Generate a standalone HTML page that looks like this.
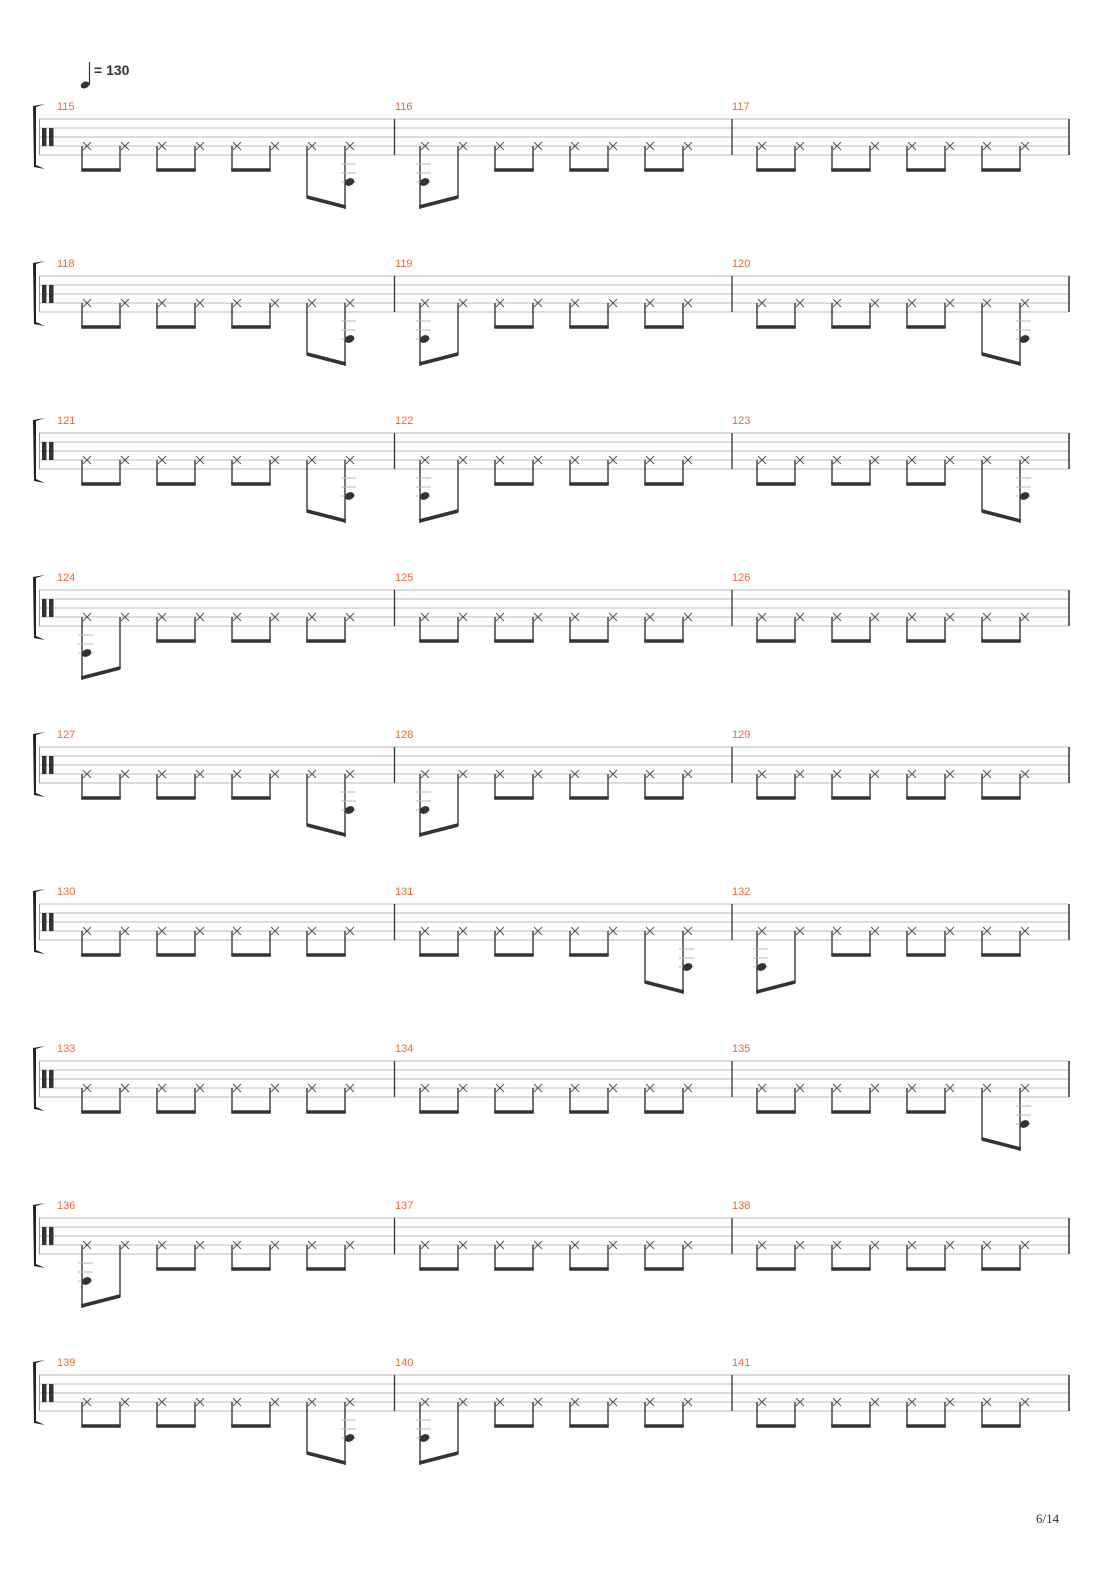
<!DOCTYPE html>
<html><head><meta charset="utf-8">
<style>
html,body{margin:0;padding:0;background:#fff;}
svg{display:block;}
.mn{font-family:"Liberation Sans",sans-serif;font-size:11px;fill:#f0683a;}
</style></head>
<body>
<svg id="s" width="1110" height="1570" viewBox="0 0 1110 1570" xmlns="http://www.w3.org/2000/svg">
<!-- tempo -->
<line x1="89.5" y1="62" x2="89.5" y2="85" stroke="#333" stroke-width="1.2"/>
<ellipse cx="85" cy="85" rx="4.5" ry="3.2" transform="rotate(-25 85 85)" fill="#333"/>
<text x="94" y="75" font-family="Liberation Sans,sans-serif" font-size="14" font-weight="bold" fill="#333">= 130</text>
<g id="g"></g>
<text class="mn" x="57" y="110">115</text><text class="mn" x="395" y="110">116</text><text class="mn" x="732" y="110">117</text>
<text class="mn" x="57" y="267">118</text><text class="mn" x="395" y="267">119</text><text class="mn" x="732" y="267">120</text>
<text class="mn" x="57" y="424">121</text><text class="mn" x="395" y="424">122</text><text class="mn" x="732" y="424">123</text>
<text class="mn" x="57" y="581">124</text><text class="mn" x="395" y="581">125</text><text class="mn" x="732" y="581">126</text>
<text class="mn" x="57" y="738">127</text><text class="mn" x="395" y="738">128</text><text class="mn" x="732" y="738">129</text>
<text class="mn" x="57" y="895">130</text><text class="mn" x="395" y="895">131</text><text class="mn" x="732" y="895">132</text>
<text class="mn" x="57" y="1052">133</text><text class="mn" x="395" y="1052">134</text><text class="mn" x="732" y="1052">135</text>
<text class="mn" x="57" y="1209">136</text><text class="mn" x="395" y="1209">137</text><text class="mn" x="732" y="1209">138</text>
<text class="mn" x="57" y="1366">139</text><text class="mn" x="395" y="1366">140</text><text class="mn" x="732" y="1366">141</text>
<text x="1036" y="1523" font-family="Liberation Serif,serif" font-size="13" fill="#333">6/14</text>
</svg>
<script>
(function(){
var g=document.getElementById('g'),h='';
var pat=[['E','S','N'],['E','S','E'],['E','S','E'],['S','N','N'],['E','S','N'],['N','E','S'],['N','N','E'],['S','N','N'],['E','S','N']];
var ms=[82,420,757];
function L(x1,y1,x2,y2,c,w){h+='<line x1="'+x1+'" y1="'+y1+'" x2="'+x2+'" y2="'+y2+'" stroke="'+c+'" stroke-width="'+w+'"/>';}
function X(x,y){L(x-4,y-4,x+4,y+4,'#555',1);L(x-4,y+4,x+4,y-4,'#555',1);}
function kick(sx,oy){var hx=sx+4.5;
 [164,173,182].forEach(function(y){L(sx-4,y+oy,sx+11,y+oy,'#bbb',1);});
 h+='<ellipse cx="'+hx+'" cy="'+(182+oy)+'" rx="5" ry="3.6" transform="rotate(-25 '+hx+' '+(182+oy)+')" fill="#333"/>';}
for(var r=0;r<9;r++){
 var oy=r*157;
 [119,128,137,146,155].forEach(function(y){L(39,y+oy,1069,y+oy,'#bbb',1);});
 L(394.5,119+oy,394.5,155+oy,'#333',1.3);L(732,119+oy,732,155+oy,'#333',1.3);L(1069,119+oy,1069,155+oy,'#333',1.5);
 L(39.5,119+oy,39.5,155+oy,'#999',1);
 h+='<path d="M45 '+(104+oy)+' L36 '+(107+oy)+' L36 '+(165+oy)+' L45 '+(169+oy)+' L34 '+(167+oy)+' L33 '+(106+oy)+' Z" fill="#222"/>';
 h+='<rect x="42" y="'+(128+oy)+'" width="4.5" height="18" fill="#333"/><rect x="49" y="'+(128+oy)+'" width="4.5" height="18" fill="#333"/>';
 for(var m=0;m<3;m++){
  var t=pat[r][m];
  for(var p=0;p<4;p++){
   var a=ms[m]+p*75,b=a+38;
   X(a+5,146+oy);X(b+5,146+oy);
   if(t=='E'&&p==3){
    L(a,146+oy,a,198+oy,'#444',1.5);L(b,146+oy,b,209+oy,'#444',1.5);
    L(a,197+oy,b+0.7,207+oy,'#333',3.5);kick(b,oy);
   }else if(t=='S'&&p==0){
    L(a,146+oy,a,209+oy,'#444',1.5);L(b,146+oy,b,198+oy,'#444',1.5);
    L(a-0.7,207+oy,b,197+oy,'#333',3.5);kick(a,oy);
   }else{
    L(a,146+oy,a,171+oy,'#444',1.5);L(b,146+oy,b,171+oy,'#444',1.5);
    L(a-0.7,170+oy,b+0.7,170+oy,'#333',3.5);
   }
  }
 }
}
g.innerHTML=h;
})();
</script>
</body></html>
